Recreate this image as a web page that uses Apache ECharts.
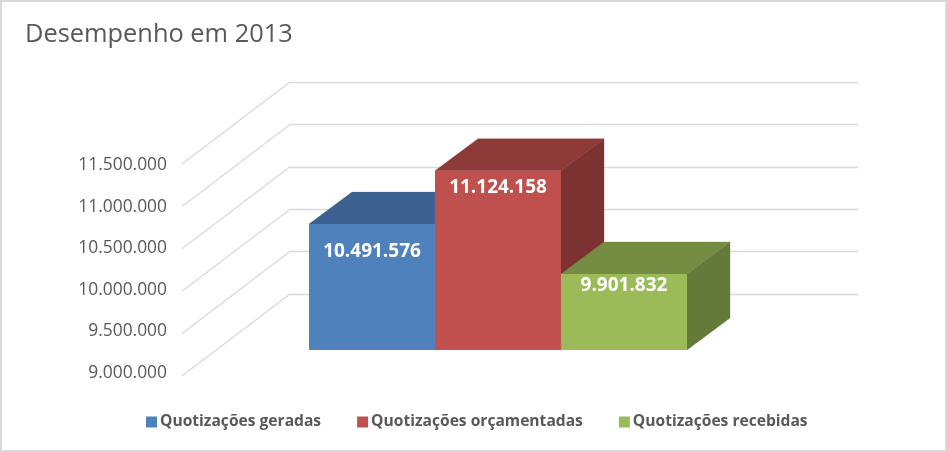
<!DOCTYPE html>
<html><head><meta charset="utf-8">
<style>html,body{margin:0;padding:0;background:#fff}#c{width:947px;height:452px}</style>
<script src="https://cdn.jsdelivr.net/npm/echarts@6/dist/echarts.min.js"></script>
</head><body><div id="c"></div>
<script>
const titleText = 'Desempenho em 2013';
const categories = ['Quotizações geradas', 'Quotizações orçamentadas', 'Quotizações recebidas'];
const values = [10491576, 11124158, 9901832];
const valueLabels = ['10.491.576', '11.124.158', '9.901.832'];
const tickValues = [9000000, 9500000, 10000000, 10500000, 11000000, 11500000];
const tickLabels = ['9.000.000', '9.500.000', '10.000.000', '10.500.000', '11.000.000', '11.500.000'];

const FONT = '"Open Sans", sans-serif';
const TEXT = '#595959', GRID = '#d9d9d9';
const palette = [
  {front: '#4f81bd', top: '#3c6190', side: '#375a84'},
  {front: '#c0504d', top: '#8e3a38', side: '#7c3230'},
  {front: '#9bbb59', top: '#758d43', side: '#647a3a'}
];
const BAR_DEPTH = [43, -32], WALL_DEPTH = [-108, 82], LABEL_DROP = [27, 17, 12];
const [MIN, MAX] = [tickValues[0], tickValues[tickValues.length - 1]];
const yBase = {type: 'value', min: MIN, max: MAX, interval: 500000, axisLine: {show: false}, axisTick: {show: false}};

const barSeries = categories.map((name, i) => ({
  type: 'custom', name, xAxisIndex: 0, yAxisIndex: 0, z: 5,
  itemStyle: {color: palette[i].front},
  encode: {x: 0, y: 1},
  data: [[i, values[i]]],
  renderItem(params, api) {
    const w = api.size([1, 0])[0];
    const t = api.coord([api.value(0), api.value(1)]);
    const b = api.coord([api.value(0), MIN]);
    const l = t[0] - w / 2, r = t[0] + w / 2, [dx, dy] = BAR_DEPTH, c = palette[i];
    const poly = (points, fill) => ({type: 'polygon', shape: {points}, style: {fill, stroke: fill, lineWidth: 0.3}});
    return {type: 'group', children: [
      poly([[l, t[1]], [l + dx, t[1] + dy], [r + dx, t[1] + dy], [r, t[1]]], c.top),
      poly([[r, t[1]], [r + dx, t[1] + dy], [r + dx, b[1] + dy], [r, b[1]]], c.side),
      {type: 'rect', shape: {x: l, y: t[1], width: w, height: b[1] - t[1]}, style: {fill: c.front}},
      {type: 'text', x: t[0], y: t[1] + LABEL_DROP[i], style: {
        text: valueLabels[i], fill: '#fff', font: 'bold 19px ' + FONT, align: 'center', verticalAlign: 'middle'}}
    ]};
  }
}));

const option = {
  animation: false,
  backgroundColor: '#fff',
  title: {text: titleText, left: 20, top: 17, textStyle: {color: TEXT, fontFamily: FONT, fontWeight: 'normal', fontSize: 25.4}},
  legend: {
    data: categories, bottom: 22, left: 146, padding: 0, itemWidth: 11, itemHeight: 11, itemGap: 36, selectedMode: false,
    icon: 'rect', textStyle: {color: TEXT, fontFamily: FONT, fontWeight: 'bold', fontSize: 15.6, padding: [0, 0, 0, -2]}
  },
  grid: [
    {left: 309, width: 378, top: 139, height: 211},   // bars, front plane
    {left: 290, width: 568, top: 82, height: 212},    // back wall
    {left: 172, width: 10, top: 165, height: 208}     // tick labels
  ],
  xAxis: [
    {gridIndex: 0, type: 'category', data: categories, show: false},
    {gridIndex: 1, type: 'value', min: 0, max: 1, show: false},
    {gridIndex: 2, type: 'value', min: 0, max: 1, show: false}
  ],
  yAxis: [
    {...yBase, gridIndex: 0, show: false},
    {...yBase, gridIndex: 1, axisLabel: {show: false}, splitLine: {show: true, lineStyle: {color: GRID, width: 1.3}}},
    {...yBase, gridIndex: 2, splitLine: {show: false}, axisLabel: {
      color: TEXT, fontFamily: FONT, fontSize: 17.4, margin: 5,
      formatter: v => tickLabels[tickValues.indexOf(v)]}}
  ],
  series: [
    {
      type: 'custom', name: 'wall', xAxisIndex: 1, yAxisIndex: 1, z: 1, silent: true,
      data: tickValues.map(v => [0, v]), encode: {x: 0, y: 1},
      renderItem(params, api) {
        const p = api.coord([0, api.value(1)]);
        return {type: 'line', shape: {x1: p[0], y1: p[1], x2: p[0] + WALL_DEPTH[0], y2: p[1] + WALL_DEPTH[1]},
          style: {stroke: GRID, lineWidth: 1.3}};
      }
    },
    ...barSeries
  ],
  graphic: [{type: 'rect', z: 100, silent: true, shape: {x: 0, y: 0, width: 947, height: 452},
    style: {fill: 'none', stroke: GRID, lineWidth: 4}}]
};
echarts.init(document.getElementById('c'), null, {renderer: 'canvas'}).setOption(option);
</script></body></html>
